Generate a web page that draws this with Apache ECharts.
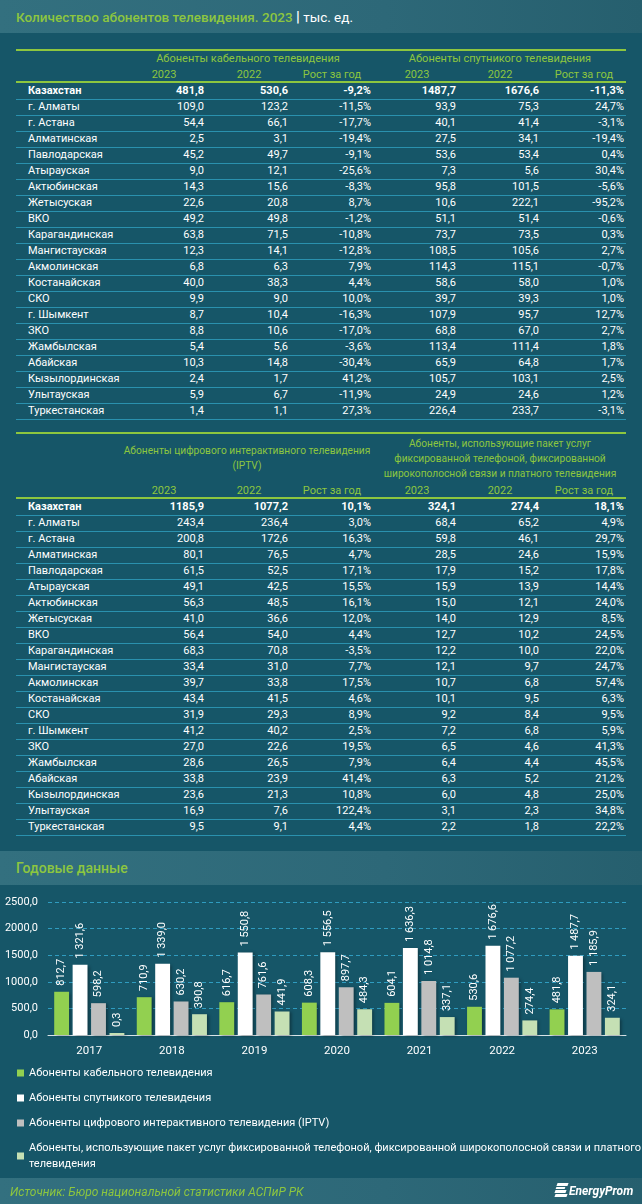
<!DOCTYPE html>
<html>
<head>
<meta charset="utf-8">
<script src="https://cdn.jsdelivr.net/npm/echarts@6/dist/echarts.min.js"></script>
<style>
html,body{margin:0;padding:0;}
body{width:642px;height:1204px;background:#165668;position:relative;overflow:hidden;font-family:Roboto,"Liberation Sans",sans-serif;color:#fff;}
.band{position:absolute;left:0;width:642px;background:linear-gradient(90deg,#33707f 0%,#2d6878 60%,#265f6e 100%);}
.t{position:absolute;white-space:nowrap;height:16px;line-height:16px;font-size:11px;}
.hl{position:absolute;left:16px;width:610px;}
.green{color:#8DC63F;}
#chart{position:absolute;left:0;top:885px;width:642px;height:319px;z-index:1;}
.ft{z-index:3;}
</style>
</head>
<body>
<div class="band" style="top:0;height:33px;"></div>
<div class="t" style="left:16px;top:8px;height:18px;line-height:18px;font-size:13.5px;font-weight:500;"><span class="green">Количествоо абонентов телевидения. 2023</span> <span style="font-weight:700;font-size:15px;">|</span> <span style="font-weight:400;">тыс. ед.</span></div>

<div class="band" style="top:851px;height:34px;"></div>
<div class="t green" style="left:16px;top:859px;height:18px;line-height:18px;font-size:14px;font-weight:500;">Годовые данные</div>

<div class="band" style="top:1178px;height:26px;"></div>
<div id="chart"></div>

<div class="t green ft" style="left:10px;top:1184px;font-style:italic;font-size:12px;">Источник: Бюро национальной статистики АСПиР РК</div>
<div class="ft" style="position:absolute;left:555px;top:1183px;width:13px;height:15px;">
  <div style="position:absolute;left:2px;top:0;width:11px;height:3px;background:#fff;transform:skewX(-20deg);"></div>
  <div style="position:absolute;left:1px;top:4px;width:9px;height:2px;background:#fff;transform:skewX(-20deg);"></div>
  <div style="position:absolute;left:0px;top:7px;width:11px;height:3px;background:#fff;transform:skewX(-20deg);"></div>
  <div style="position:absolute;left:0px;top:11px;width:12px;height:3px;background:#fff;transform:skewX(-20deg);"></div>
</div>
<div class="t ft" style="left:569px;top:1183px;font-style:italic;font-weight:700;font-size:12px;">EnergyProm</div>

<script>
// ---------- DATA ----------
const regions = ['Казахстан','г. Алматы','г. Астана','Алматинская','Павлодарская','Атырауская','Актюбинская','Жетысуская','ВКО','Карагандинская','Мангистауская','Акмолинская','Костанайская','СКО','г. Шымкент','ЗКО','Жамбылская','Абайская','Кызылординская','Улытауская','Туркестанская'];

const cable2023 = [481.8,109.0,54.4,2.5,45.2,9.0,14.3,22.6,49.2,63.8,12.3,6.8,40.0,9.9,8.7,8.8,5.4,10.3,2.4,5.9,1.4];
const cable2022 = [530.6,123.2,66.1,3.1,49.7,12.1,15.6,20.8,49.8,71.5,14.1,6.3,38.3,9.0,10.4,10.6,5.6,14.8,1.7,6.7,1.1];
const cableGrowth = [-9.2,-11.5,-17.7,-19.4,-9.1,-25.6,-8.3,8.7,-1.2,-10.8,-12.8,7.9,4.4,10.0,-16.3,-17.0,-3.6,-30.4,41.2,-11.9,27.3];

const sat2023 = [1487.7,93.9,40.1,27.5,53.6,7.3,95.8,10.6,51.1,73.7,108.5,114.3,58.6,39.7,107.9,68.8,113.4,65.9,105.7,24.9,226.4];
const sat2022 = [1676.6,75.3,41.4,34.1,53.4,5.6,101.5,222.1,51.4,73.5,105.6,115.1,58.0,39.3,95.7,67.0,111.4,64.8,103.1,24.6,233.7];
const satGrowth = [-11.3,24.7,-3.1,-19.4,0.4,30.4,-5.6,-95.2,-0.6,0.3,2.7,-0.7,1.0,1.0,12.7,2.7,1.8,1.7,2.5,1.2,-3.1];

const iptv2023 = [1185.9,243.4,200.8,80.1,61.5,49.1,56.3,41.0,56.4,68.3,33.4,39.7,43.4,31.9,41.2,27.0,28.6,33.8,23.6,16.9,9.5];
const iptv2022 = [1077.2,236.4,172.6,76.5,52.5,42.5,48.5,36.6,54.0,70.8,31.0,33.8,41.5,29.3,40.2,22.6,26.5,23.9,21.3,7.6,9.1];
const iptvGrowth = [10.1,3.0,16.3,4.7,17.1,15.5,16.1,12.0,4.4,-3.5,7.7,17.5,4.6,8.9,2.5,19.5,7.9,41.4,10.8,122.4,4.4];

const pkg2023 = [324.1,68.4,59.8,28.5,17.9,15.9,15.0,14.0,12.7,12.2,12.1,10.7,10.1,9.2,7.2,6.5,6.4,6.3,6.0,3.1,2.2];
const pkg2022 = [274.4,65.2,46.1,24.6,15.2,13.9,12.1,12.9,10.2,10.0,9.7,6.8,9.5,8.4,6.8,4.6,4.4,5.2,4.8,2.3,1.8];
const pkgGrowth = [18.1,4.9,29.7,15.9,17.8,14.4,24.0,8.5,24.5,22.0,24.7,57.4,6.3,9.5,5.9,41.3,45.5,21.2,25.0,34.8,22.2];

const colHeaders = ['2023','2022','Рост за год','2023','2022','Рост за год'];

const years = ['2017','2018','2019','2020','2021','2022','2023'];
const cableYear = [812.7,710.9,616.7,608.3,604.1,530.6,481.8];
const satYear = [1321.6,1339.0,1550.8,1556.5,1636.3,1676.6,1487.7];
const iptvYear = [598.2,630.2,761.6,897.7,1014.8,1077.2,1185.9];
const pkgYear = [0.3,390.8,441.9,484.3,337.1,274.4,324.1];

const seriesNames = [
  'Абоненты кабельного телевидения',
  'Абоненты спутникого телевидения',
  'Абоненты цифрового интерактивного телевидения (IPTV)',
  'Абоненты, использующие пакет услуг фиксированной телефоной, фиксированной широкополосной связи и платного телевидения'
];
const yTickInterval = 500;
const yMax = 2500;

// ---------- TABLES (HTML) ----------
const colRight = [204, 288, 371, 456, 539, 624];
const colCenter = [164, 249, 332, 417, 500, 584];
const SEP = '#2a91ae';
const GREEN = '#8DC63F';
const num = v => v.toFixed(1).replace('.', ',');
const pct = v => v.toFixed(1).replace('.', ',') + '%';

function addText(txt, x, y, align, opts) {
  opts = opts || {};
  const d = document.createElement('div');
  d.className = 't';
  d.textContent = txt;
  d.style.top = (y - 8) + 'px';
  if (align === 'left') { d.style.left = x + 'px'; }
  else if (align === 'right') { d.style.left = (x - 150) + 'px'; d.style.width = '150px'; d.style.textAlign = 'right'; }
  else { d.style.left = (x - 160) + 'px'; d.style.width = '320px'; d.style.textAlign = 'center'; }
  if (opts.bold) d.style.fontWeight = '700';
  if (opts.color) d.style.color = opts.color;
  if (opts.size) d.style.fontSize = opts.size + 'px';
  document.body.appendChild(d);
}
function addLine(y, color, h) {
  const d = document.createElement('div');
  d.className = 'hl';
  d.style.top = y + 'px';
  d.style.height = h + 'px';
  d.style.background = color;
  document.body.appendChild(d);
}
function buildTable(cfg) {
  addLine(cfg.topLine, GREEN, 2);
  cfg.groupHeaders.forEach(g => g.lines.forEach((l, k) => addText(l, g.cx, g.y0 + k * 15, 'center', {color: GREEN, size: cfg.headSize})));
  colHeaders.forEach((h, j) => addText(h, colCenter[j], cfg.yearY, 'center', {color: GREEN}));
  addLine(cfg.headLine, GREEN, 2);
  regions.forEach((r, i) => {
    const y = cfg.rowY + i * 16;
    const bold = i === 0;
    addText(r, 28, y, 'left', {bold});
    cfg.cols.forEach((c, j) => addText(c.f(c.d[i]), colRight[j], y, 'right', {bold}));
    addLine(y + 8, SEP, 1);
  });
}

buildTable({
  topLine: 49, headLine: 81, yearY: 75, rowY: 91, headSize: 11,
  groupHeaders: [
    {cx: 248, y0: 59, lines: ['Абоненты кабельного телевидения']},
    {cx: 500, y0: 59, lines: ['Абоненты спутникого телевидения']}
  ],
  cols: [
    {d: cable2023, f: num}, {d: cable2022, f: num}, {d: cableGrowth, f: pct},
    {d: sat2023, f: num}, {d: sat2022, f: num}, {d: satGrowth, f: pct}
  ]
});
buildTable({
  topLine: 432, headLine: 497, yearY: 491, rowY: 507, headSize: 10.2,
  groupHeaders: [
    {cx: 247, y0: 451, lines: ['Абоненты цифрового интерактивного телевидения', '(IPTV)']},
    {cx: 500, y0: 444, lines: ['Абоненты, использующие пакет услуг', 'фиксированной телефоной, фиксированной', 'широкополосной связи и платного телевидения']}
  ],
  cols: [
    {d: iptv2023, f: num}, {d: iptv2022, f: num}, {d: iptvGrowth, f: pct},
    {d: pkg2023, f: num}, {d: pkg2022, f: num}, {d: pkgGrowth, f: pct}
  ]
});

// ---------- CHART (ECharts) ----------
const barLabel = v => {
  const s = v.toFixed(1).split('.');
  return s[0].replace(/\B(?=(\d{3})+(?!\d))/g, ' ') + ',' + s[1];
};
const colors = ['#92D050', '#FFFFFF', '#BFBFBF', '#C5E0B4'];
const dataSets = [cableYear, satYear, iptvYear, pkgYear];

const chart = echarts.init(document.getElementById('chart'), null, {renderer: 'canvas'});
chart.setOption({
  backgroundColor: 'transparent',
  textStyle: {fontFamily: 'Roboto, "Liberation Sans", sans-serif'},
  animation: false,
  grid: {left: 48, right: 16, top: 17, height: 133, containLabel: false},
  legend: {
    orient: 'vertical', left: 17, top: 180, padding: 0,
    itemWidth: 7, itemHeight: 7, itemGap: 9, icon: 'rect',
    textStyle: {color: '#fff', fontSize: 11, lineHeight: 16},
    formatter: name => name.length > 80 ? name.replace(/ (\S+)$/, '\n$1') : name,
    data: seriesNames
  },
  xAxis: {
    type: 'category', data: years,
    axisLine: {lineStyle: {color: '#d9e4e8', width: 1}},
    axisTick: {show: false},
    axisLabel: {color: '#fff', fontSize: 11.5, margin: 10}
  },
  yAxis: {
    type: 'value', min: 0, max: yMax, interval: yTickInterval,
    axisLine: {show: false}, axisTick: {show: false},
    axisLabel: {color: '#fff', fontSize: 11, margin: 10, formatter: v => v.toFixed(1).replace('.', ',')},
    splitLine: {lineStyle: {color: '#2f9cc0', type: [4, 3], width: 1}}
  },
  series: dataSets.map((d, i) => ({
    name: seriesNames[i], type: 'bar', data: d,
    barGap: '24%', barCategoryGap: '15%', barMinHeight: 2,
    itemStyle: {color: colors[i], shadowColor: 'rgba(0,0,0,0.35)', shadowBlur: 3, shadowOffsetX: 2, shadowOffsetY: 1},
    label: {show: true, position: 'top', rotate: 90, align: 'left', verticalAlign: 'middle', distance: 6,
      color: '#fff', fontSize: 11, formatter: p => barLabel(p.value)}
  }))
});
</script>
</body>
</html>
